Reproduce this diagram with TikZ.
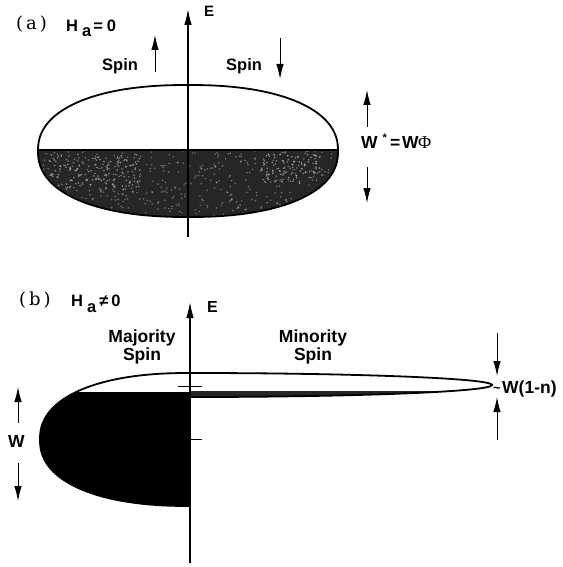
\documentclass[tikz,border=0pt]{standalone}
\usepackage{fontspec}
\setmainfont{Liberation Sans}
\newfontfamily\serifl{Liberation Serif}
\newfontfamily\serifd{DejaVu Serif}
\usetikzlibrary{arrows.meta}
% superellipse path: center x, center y, rx, ry
\newcommand{\sellpath}[4]{plot[domain=1:361,samples=181,smooth]
  ({#1+#3*sign(cos(\x))*pow(abs(cos(\x)),0.88)},{#2+#4*sign(sin(\x))*pow(abs(sin(\x)),0.88)}) -- cycle}
\begin{document}
\begin{tikzpicture}[x=1pt,y=-1pt,
  lbl/.style={inner sep=0pt,font=\bfseries\fontsize{16.5}{18}\selectfont},
  big/.style={inner sep=0pt,font=\bfseries\fontsize{17.5}{18}\selectfont,align=center},
  panel/.style={inner sep=0pt,anchor=base west,font=\serifd\fontsize{18}{20}\selectfont},
  outline/.style={line width=1.8pt},
  axis/.style={line width=1.3pt,-{Latex[length=16pt,width=7.5pt]}},
  dim/.style={line width=1pt,-{Latex[length=15pt,width=7.5pt]}},
  tick/.style={line width=1pt}]
\useasboundingbox (0,0) rectangle (562,567);

% ================= panel (a) =================
\node[panel] (pa) at (16,30) {(\kern3pt a\kern3pt)};
\node[lbl,anchor=base west] (ha) at (66,32) {H\kern4pt\raisebox{-5pt}{a}\kern2pt=\kern4pt0};

% filled lower half
\begin{scope}
  \clip (30,150) rectangle (350,225);
  \fill[black!85] \sellpath{188}{151}{150}{66};
  \pgfmathsetseed{11}
  \foreach \i in {1,...,450} {
    \fill[white,opacity=0.35] ({188+150*rand},{183+34*rand}) circle (0.9);
  }
  \foreach \i in {1,...,140} {
    \fill[white,opacity=0.45] ({95+45*rand},{172+18*rand}) circle (0.9);
  }
  \foreach \i in {1,...,100} {
    \fill[white,opacity=0.45] ({290+30*rand},{168+14*rand}) circle (0.9);
  }
\end{scope}
\begin{scope}
  \clip \sellpath{188}{151}{150}{66};
  \draw[line width=1.5pt] (30,150) -- (350,150);
\end{scope}
\draw[outline] \sellpath{188}{151}{150}{66};

% axis E
\coordinate (aBot) at (188,237);
\coordinate (aTop) at (188,9);
\draw[axis] (aBot) -- (aTop);
\node[lbl,anchor=base west,font=\bfseries\fontsize{15}{16}\selectfont] (Ea) at (204,17) {E};

% spin labels
\node[lbl,anchor=base west] (spu) at (102,71) {Spin};
\coordinate (su1) at (155,72); \coordinate (su2) at (155,35);
\draw[dim] (su1) -- (su2);
\node[lbl,anchor=base west] (spd) at (226,71) {Spin};
\coordinate (sd1) at (280,38); \coordinate (sd2) at (280,79);
\draw[dim] (sd1) -- (sd2);

% W* label and arrows
\node[lbl,anchor=base west,font=\bfseries\fontsize{17.5}{18}\selectfont] (wst) at (361,148)
  {W\kern5pt\raisebox{6pt}{\fontsize{11}{12}\selectfont *}\kern3pt=\kern2pt W\kern-0.5pt{\serifl\mdseries\fontsize{18}{18}\selectfont Φ}};
\coordinate (w1a) at (367,127); \coordinate (w1b) at (367,90);
\draw[dim] (w1a) -- (w1b);
\coordinate (w2a) at (367,167); \coordinate (w2b) at (367,203);
\draw[dim] (w2a) -- (w2b);

% ================= panel (b) =================
\node[panel] (pb) at (19,305) {(\kern3pt b\kern3pt)};
\node[lbl,anchor=base west] (hb) at (71,306) {H\kern4pt\raisebox{-6pt}{a}\kern3pt≠\kern3pt0};

% majority band (filled below Fermi level)
\begin{scope}
  \clip (30,392) rectangle (190,515);
  \fill[black] \sellpath{190}{439.5}{150}{66.5};
\end{scope}
\begin{scope}
  \clip (30,360) rectangle (190,515);
  \draw[outline] \sellpath{190}{439.5}{150}{66.5};
\end{scope}

% minority band
\begin{scope}
  \clip (190,391.5) rectangle (500,400);
  \fill[black!85] (190,385) ellipse [x radius=302, y radius=12];
\end{scope}
\begin{scope}
  \clip (190,360) rectangle (500,400);
  \draw[outline] (190,385) ellipse [x radius=302, y radius=12];
\end{scope}

% axis E (b)
\coordinate (bBot) at (190,563);
\coordinate (bTop) at (190,302);
\draw[axis] (bBot) -- (bTop);
\node[lbl,anchor=base west,font=\bfseries\fontsize{16}{16}\selectfont] (Eb) at (207,312) {E};
\coordinate (t1a) at (178,386); \coordinate (t1b) at (202,386);
\draw[tick] (t1a) -- (t1b);
\coordinate (t2a) at (190,439); \coordinate (t2b) at (202,439);
\draw[tick] (t2a) -- (t2b);

% labels
\node[big,anchor=base] (maj) at (142,342) {Majority};
\node[big,anchor=base] (majs) at (142,360) {Spin};
\node[big,anchor=base] (min) at (313,342) {Minority};
\node[big,anchor=base] (mins) at (313,360) {Spin};

% W arrows (b)
\node[big,anchor=base west,font=\bfseries\fontsize{17.5}{18}\selectfont] (wb) at (8,447) {W};
\coordinate (wb1a) at (18,423); \coordinate (wb1b) at (18,387);
\draw[dim] (wb1a) -- (wb1b);
\coordinate (wb2a) at (18,463); \coordinate (wb2b) at (18,501);
\draw[dim] (wb2a) -- (wb2b);

% ~W(1-n)
\node[inner sep=0pt,font=\bfseries\fontsize{13}{13}\selectfont] (tl) at (497,390) {\textasciitilde};
\node[big,anchor=base west,font=\bfseries\fontsize{17.5}{18}\selectfont] (wn) at (502,393) {W(1-n)};
\coordinate (wn1a) at (497,333); \coordinate (wn1b) at (497,376);
\draw[dim] (wn1a) -- (wn1b);
\coordinate (wn2a) at (497,440); \coordinate (wn2b) at (497,397);
\draw[dim] (wn2a) -- (wn2b);
\end{tikzpicture}
\end{document}
